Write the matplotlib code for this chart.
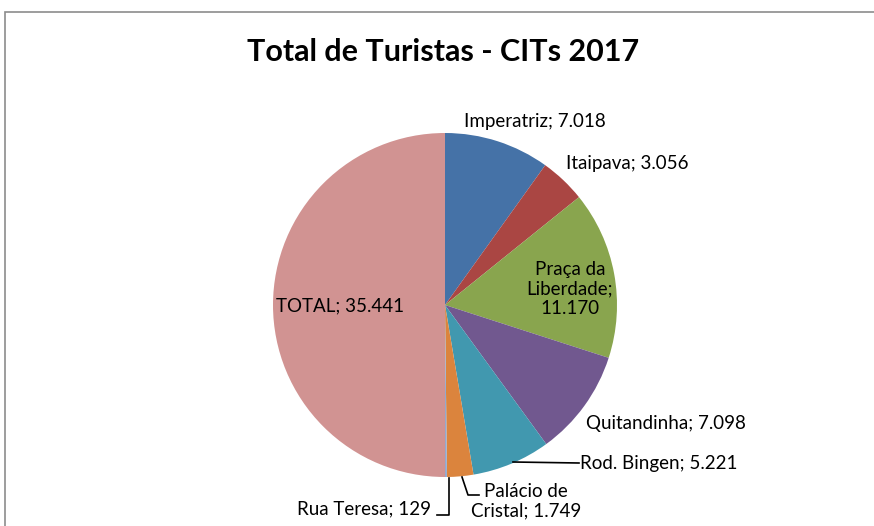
import matplotlib
matplotlib.use("Agg")
import matplotlib.pyplot as plt
from matplotlib.patches import Rectangle

plt.rcParams['font.family'] = ['Lato', 'DejaVu Sans']

categories = ["Imperatriz", "Itaipava", "Praça da Liberdade", "Quitandinha",
              "Rod. Bingen", "Palácio de Cristal", "Rua Teresa", "TOTAL"]
values = [7018, 3056, 11170, 7098, 5221, 1749, 129, 35441]
value_labels = ["7.018", "3.056", "11.170", "7.098", "5.221", "1.749", "129", "35.441"]
colors = ["#4572A7", "#AA4643", "#89A54E", "#71588F", "#4198AF",
          "#DB843D", "#93A9CF", "#D19392"]
title = "Total de Turistas - CITs 2017"

W, H = 874, 526
fig = plt.figure(figsize=(W / 100, H / 100), dpi=100)
ax = fig.add_axes([0, 0, 1, 1])
ax.set_xlim(0, W)
ax.set_ylim(0, H)
ax.set_aspect('equal')
ax.axis('off')

# chart border
ax.add_patch(Rectangle((5, -10), W + 10, H - 12 + 10, fill=False,
                       edgecolor="#8c8c8c", linewidth=1.2))

cx, cy, r = 445, H - 305, 172
ax.pie(values, colors=colors, startangle=90, counterclock=False,
       center=(cx, cy), radius=r, frame=True,
       wedgeprops=dict(linewidth=0))
ax.set_xlim(0, W)
ax.set_ylim(0, H)
ax.axis('off')

fs = 13.5
def lab(i, x, y, ha='left', va='center', multiline=None):
    txt = multiline if multiline else f"{categories[i]}; {value_labels[i]}"
    ax.text(x, H - y, txt, ha=ha, va=va, fontsize=fs, color="black",
            linespacing=1.15, multialignment='center')

lab(0, 464, 121)
lab(1, 566, 163)
lab(2, 570, 289, ha='center', multiline="Praça da\nLiberdade;\n" + value_labels[2])
lab(3, 586, 424)
lab(4, 580, 463)
lab(5, 526, 501, ha='center', multiline="Palácio de\nCristal; " + value_labels[5])
lab(6, 431, 509, ha='right')
lab(7, 276, 306)

def leader(pts):
    xs = [p[0] for p in pts]
    ys = [H - p[1] for p in pts]
    ax.plot(xs, ys, color="black", linewidth=1.2)

leader([(513, 462), (579, 463)])
leader([(462, 477), (468, 495), (479, 495)])
leader([(449, 478), (449, 515), (437, 515)])

ax.text(443, H - 52, title, ha='center', va='center', fontsize=22,
        fontweight='bold', color="black")

fig.savefig("out.png", dpi=100)
